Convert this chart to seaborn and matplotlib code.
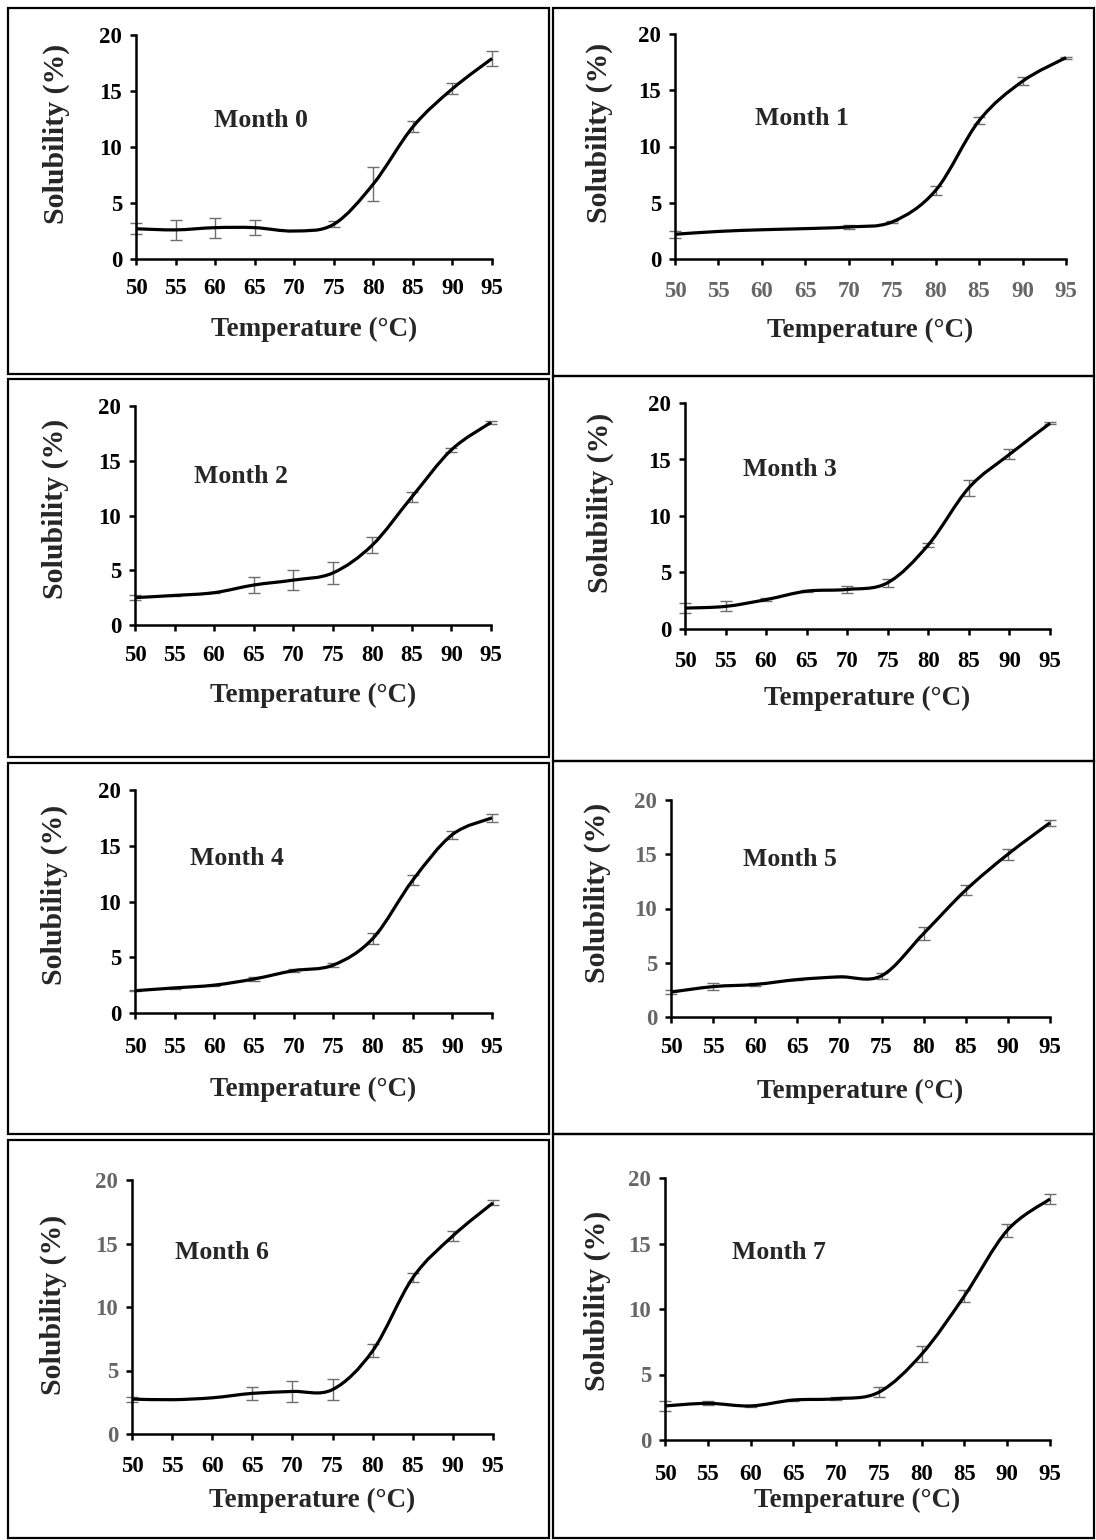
import numpy as np
import matplotlib
matplotlib.use('Agg')
import matplotlib.pyplot as plt
from matplotlib.path import Path
from matplotlib.patches import PathPatch, Rectangle
import seaborn as sns

# temperatures (°C) shared by every panel
temps = [50, 55, 60, 65, 70, 75, 80, 85, 90, 95]

# solubility (%) and error for each month
month0 = [2.7, 2.6, 2.8, 2.8, 2.5, 3.1, 6.7, 11.8, 15.2, 17.9]
err0 = [0.5, 0.9, 0.9, 0.65, 0.0, 0.25, 1.55, 0.5, 0.5, 0.7]
month1 = [2.2, 2.45, 2.6, 2.7, 2.85, 3.3, 6.1, 12.3, 15.8, 17.9]
err1 = [0.3, 0.0, 0.0, 0.0, 0.2, 0.1, 0.4, 0.3, 0.35, 0.1]
month2 = [2.5, 2.7, 2.95, 3.65, 4.1, 4.75, 7.3, 11.7, 16.0, 18.5]
err2 = [0.2, 0.05, 0.05, 0.7, 0.9, 1.0, 0.7, 0.45, 0.2, 0.1]
month3 = [1.85, 2.0, 2.6, 3.35, 3.5, 4.1, 7.45, 12.5, 15.45, 18.2]
err3 = [0.45, 0.45, 0.1, 0.1, 0.3, 0.35, 0.2, 0.7, 0.45, 0.1]
month4 = [2.0, 2.25, 2.5, 3.05, 3.8, 4.3, 6.7, 11.9, 16.0, 17.5]
err4 = [0.05, 0.1, 0.05, 0.15, 0.15, 0.15, 0.5, 0.45, 0.35, 0.35]
month5 = [2.3, 2.8, 3.0, 3.45, 3.7, 3.8, 7.7, 11.7, 15.0, 17.9]
err5 = [0.15, 0.35, 0.1, 0.05, 0.05, 0.3, 0.6, 0.45, 0.5, 0.3]
month6 = [2.75, 2.7, 2.85, 3.2, 3.35, 3.5, 6.55, 12.3, 15.6, 18.2]
err6 = [0.2, 0.0, 0.0, 0.5, 0.85, 0.85, 0.5, 0.35, 0.4, 0.2]
month7 = [2.6, 2.8, 2.6, 3.05, 3.15, 3.65, 6.55, 11.0, 16.0, 18.4]
err7 = [0.35, 0.15, 0.1, 0.1, 0.1, 0.4, 0.6, 0.45, 0.5, 0.4]

titles = ['Month 0', 'Month 1', 'Month 2', 'Month 3',
          'Month 4', 'Month 5', 'Month 6', 'Month 7']
means = [month0, month1, month2, month3, month4, month5, month6, month7]
errs = [err0, err1, err2, err3, err4, err5, err6, err7]

# layout in pixels of the original picture
W, H = 1096, 1540
axes_px = [(136, 35, 492, 259), (675, 34, 1066, 259),
           (135, 406, 491, 625), (685, 403, 1050, 629),
           (135, 790, 492, 1013), (671, 800, 1050, 1017),
           (132, 1180, 493, 1434), (665, 1178, 1050, 1440)]
box_px = [(8, 8, 549, 374), (553, 8, 1094, 376),
          (8, 379, 549, 757), (553, 376, 1094, 761),
          (8, 763, 549, 1134), (553, 761, 1094, 1134),
          (8, 1140, 549, 1538), (553, 1134, 1094, 1538)]
label_pos = [(65.8, 12.4), (64.6, 12.5), (63.4, 13.6), (62.9, 14.1),
             (62.9, 13.9), (64.1, 14.5), (61.2, 14.3), (63.3, 14.3)]
# distance (px) below the x axis of tick label centre and axis title centre
tick_off = [29, 32, 30, 32, 34, 30, 32, 34]
xlab_off = [70, 71, 70, 69, 76, 74, 66, 60]
# right edge (px) of the rotated y title, and its height as axes fraction
ylab_px = [70, 613, 69, 614, 68, 611, 67, 611]
ylab_y = [0.56, 0.56, 0.53, 0.56, 0.53, 0.57, 0.51, 0.53]
gray_x = [False, True, False, False, False, False, False, False]
gray_y = [False, False, False, False, False, True, True, True]

sns.set_theme(style='ticks')
plt.rcParams['font.family'] = ['Liberation Serif', 'DejaVu Serif']
plt.rcParams['font.weight'] = 'bold'
plt.rcParams['axes.labelweight'] = 'bold'

fig = plt.figure(figsize=(W / 100, H / 100), dpi=100)
fig.patch.set_facecolor('white')


def smooth_path(x, y):
    # excel style smoothed line: a cubic bezier through every point
    pts = np.column_stack([x, y]).astype(float)
    pad = np.vstack([pts[0], pts, pts[-1]])
    verts = [pts[0]]
    codes = [Path.MOVETO]
    for i in range(len(pts) - 1):
        p0, p1, p2, p3 = pad[i], pad[i + 1], pad[i + 2], pad[i + 3]
        verts += [p1 + (p2 - p0) / 6, p2 - (p3 - p1) / 6, p2]
        codes += [Path.CURVE4] * 3
    return Path(verts, codes)


for i in range(8):
    x0, y0, x1, y1 = axes_px[i]
    wpx, hpx = x1 - x0, y1 - y0
    ax = fig.add_axes([x0 / W, 1 - y1 / H, wpx / W, hpx / H])
    ax.set_facecolor('white')

    # error bars (only where there is one)
    ex = [t for t, e in zip(temps, errs[i]) if e > 0]
    ey = [m for m, e in zip(means[i], errs[i]) if e > 0]
    ee = [e for e in errs[i] if e > 0]
    ax.errorbar(ex, ey, yerr=ee, fmt='none', ecolor='#6e6e6e',
                elinewidth=1.0, capsize=4, capthick=1.0, clip_on=False, zorder=2)

    # smoothed line
    ax.add_patch(PathPatch(smooth_path(temps, means[i]), fill=False,
                           edgecolor='black', lw=2.3, clip_on=False, zorder=3))

    ax.set_xlim(50, 95)
    ax.set_ylim(0, 20)
    ax.set_xticks(range(50, 100, 5))
    ax.set_yticks(range(0, 25, 5))
    sns.despine(ax=ax)
    for s in ['left', 'bottom']:
        ax.spines[s].set_linewidth(1.8)
        ax.spines[s].set_color('black')
    ax.tick_params(direction='out', length=4, width=1.8, color='black',
                   labelsize=16.5)
    ax.tick_params(axis='x', pad=(tick_off[i] - 10) / 1.389 - 4,
                   labelcolor='#666666' if gray_x[i] else 'black')
    ax.tick_params(axis='y', pad=6,
                   labelcolor='#666666' if gray_y[i] else 'black')
    for lab in ax.get_xticklabels() + ax.get_yticklabels():
        lab.set_fontweight('bold')

    ax.set_xlabel('Temperature (°C)', fontsize=19.5, fontweight='bold')
    ax.xaxis.set_label_coords(0.5, -(xlab_off[i] - 12) / hpx)
    ax.set_ylabel('Solubility (%)', fontsize=21.5, fontweight='bold')
    ax.yaxis.set_label_coords((ylab_px[i] - x0) / wpx, ylab_y[i])
    ax.text(label_pos[i][0], label_pos[i][1], titles[i], ha='center', va='center',
            fontsize=18.5, fontweight='bold')

    bx0, by0, bx1, by1 = box_px[i]
    fig.add_artist(Rectangle((bx0 / W, 1 - by1 / H), (bx1 - bx0) / W, (by1 - by0) / H,
                             transform=fig.transFigure, fill=False,
                             edgecolor='black', lw=1.6))

fig.savefig('out.png', dpi=100, facecolor='white')
